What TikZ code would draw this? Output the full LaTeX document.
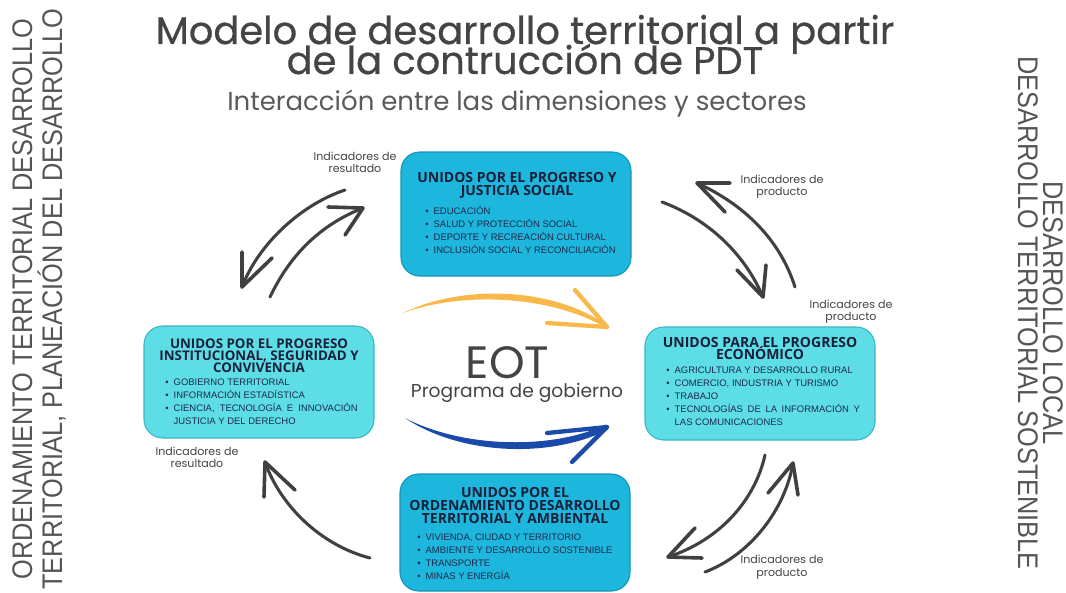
\documentclass[tikz,border=0pt]{standalone}
\usepackage{fontspec}
\setmainfont{Liberation Sans}
\newfontfamily\titlefont{Poppins}
\newfontfamily\titlebold{Poppins}[FakeBold=0.6]
\newfontfamily\headfont{Open Sans}
\definecolor{topblue}{HTML}{1DB6DD}
\definecolor{topedge}{HTML}{1494B5}
\definecolor{cyanbox}{HTML}{5DDEE6}
\definecolor{cyanedge}{HTML}{3CB6C2}
\definecolor{navy}{HTML}{1A1F3A}
\definecolor{itemc}{HTML}{1C2A4C}
\definecolor{titlegray}{HTML}{444444}
\definecolor{subgray}{HTML}{5A5A5A}
\definecolor{vgray}{HTML}{555555}
\definecolor{labc}{HTML}{444444}
\definecolor{skc}{HTML}{404040}
\definecolor{orangec}{HTML}{F8B84A}
\definecolor{bluec}{HTML}{1A4AAA}
\newcommand{\bul}[1]{\makebox[6.3pt][l]{•}#1}
\newcommand{\tightlines}{\lineskiplimit=-100pt\relax\lineskip=0pt\relax}
\newcommand{\titlefnt}{\titlebold\fontsize{28.8}{22.5}\selectfont\tightlines}
\newcommand{\eotfnt}{\titlefont\fontsize{14}{14.6}\selectfont\tightlines}
\begin{document}
\begin{tikzpicture}[x=0.75pt,y=-0.75pt,
  box/.style={rounded corners=14pt, minimum width=172.5pt, inner sep=0pt, line width=0.8pt},
  hd/.style={anchor=base, font=\headfont\bfseries\fontsize{10.5}{12}\selectfont, text=navy, inner sep=0pt},
  hdl/.style={hd, font=\headfont\bfseries\fontsize{10}{12}\selectfont},
  it/.style={anchor=base west, font=\fontsize{7.1}{8}\selectfont, text=itemc, inner sep=0pt},
  lab/.style={anchor=base, font=\titlefont\fontsize{8.3}{9}\selectfont, text=labc, inner sep=0pt},
  sk/.style={draw=skc, line width=2.3pt, line cap=round, line join=round},
  skh/.style={draw=skc, line width=2.7pt, line cap=round},
  vt/.style={anchor=base, font=\fontsize{19}{22}\selectfont, text=vgray, inner sep=0pt}]
\useasboundingbox (0,0) rectangle (1066,592);
\clip (0,0) rectangle (1066,592);

% vertical side texts
\node[vt, rotate=90] (vl1) at (32,299) {\scalebox{1}[1.12]{ORDENAMIENTO TERRITORIAL DESARROLLO}};
\node[vt, rotate=90] (vl2) at (62,299) {\scalebox{1}[1.12]{TERRITORIAL, PLANEACIÓN DEL DESARROLLO}};
\node[vt, rotate=-90] (vr1) at (1043,313) {\scalebox{1}[1.12]{DESARROLLO LOCAL}};
\node[vt, rotate=-90] (vr2) at (1018,313) {\scalebox{1}[1.12]{DESARROLLO TERRITORIAL SOSTENIBLE}};

% titles
\node[anchor=base, inner sep=0pt, text=titlegray, align=center, font=\titlefnt] (title) at (525,74)
  {Modelo de desarrollo territorial a partir\\de la contrucción de PDT};
\node[anchor=base, inner sep=0pt, text=subgray, font=\titlefont\fontsize{19.5}{22}\selectfont] (subtitle) at (517,110) {Interacción entre las dimensiones y sectores};

% boxes
\node[box, fill=topblue, draw=topedge, minimum height=93pt] (boxT) at (516,214) {};
\node[box, fill=cyanbox, draw=cyanedge, minimum height=84pt] (boxL) at (259,382) {};
\node[box, fill=cyanbox, draw=cyanedge, minimum height=84.75pt] (boxR) at (760,383.5) {};
\node[box, fill=topblue, draw=topedge, minimum height=87.75pt] (boxB) at (515,532.5) {};

% top box text
\node[hd] (tT1) at (517,182) {UNIDOS POR EL PROGRESO Y};
\node[hd] (tT2) at (517,195) {JUSTICIA SOCIAL};
\node[it] (iT1) at (425,214.5) {\bul{EDUCACIÓN}};
\node[it] (iT2) at (425,227.5) {\bul{SALUD Y PROTECCIÓN SOCIAL}};
\node[it] (iT3) at (425,240.5) {\bul{DEPORTE Y RECREACIÓN CULTURAL}};
\node[it] (iT4) at (425,253.5) {\bul{INCLUSIÓN SOCIAL Y RECONCILIACIÓN}};

% left box text
\node[hdl] (tL1) at (259,348) {UNIDOS POR EL PROGRESO};
\node[hdl] (tL2) at (259,360) {INSTITUCIONAL, SEGURIDAD Y};
\node[hdl] (tL3) at (259,372) {CONVIVENCIA};
\node[it] (iL1) at (165,385.5) {\bul{GOBIERNO TERRITORIAL}};
\node[it] (iL2) at (165,398.5) {\bul{INFORMACIÓN ESTADÍSTICA}};
\node[it] (iL3) at (165,411.5) {\bul{\hbox to 138pt{CIENCIA,\hfil TECNOLOGÍA\hfil E\hfil INNOVACIÓN}}};
\node[it] (iL4) at (173.4,424.5) {JUSTICIA Y DEL DERECHO};

% right box text
\node[hd] (tR1) at (760,347) {UNIDOS PARA EL PROGRESO};
\node[hd] (tR2) at (760,359) {ECONÓMICO};
\node[it] (iR1) at (666,373.5) {\bul{AGRICULTURA Y DESARROLLO RURAL}};
\node[it] (iR2) at (666,386.5) {\bul{COMERCIO, INDUSTRIA Y TURISMO}};
\node[it] (iR3) at (666,399.5) {\bul{TRABAJO}};
\node[it] (iR4) at (666,412.5) {\bul{\hbox to 139pt{TECNOLOGÍAS\hfil DE\hfil LA\hfil INFORMACIÓN\hfil Y}}};
\node[it] (iR5) at (674.4,425.5) {LAS COMUNICACIONES};

% bottom box text
\node[hd] (tB1) at (515,497) {UNIDOS POR EL};
\node[hd] (tB2) at (515,510) {ORDENAMIENTO DESARROLLO};
\node[hd] (tB3) at (515,523) {TERRITORIAL Y AMBIENTAL};
\node[it] (iB1) at (417,540.5) {\bul{VIVIENDA, CIUDAD Y TERRITORIO}};
\node[it] (iB2) at (417,553.5) {\bul{AMBIENTE Y DESARROLLO SOSTENIBLE}};
\node[it] (iB3) at (417,566.5) {\bul{TRANSPORTE}};
\node[it] (iB4) at (417,579.5) {\bul{MINAS Y ENERGÍA}};

% centre
\node[anchor=base, inner sep=0pt, text=titlegray, align=center, font=\eotfnt] (eot) at (517,397.5)
  {{\fontsize{34}{14.6}\selectfont EOT\hspace*{14pt}}\\Programa de gobierno};

% orange and blue arrows (tapered strokes)
\coordinate (os) at (403,313); \coordinate (ot) at (607,327);
\fill[orangec] (os) .. controls (460,285) and (550,286) .. (606,324.5)
  -- (608,329) .. controls (550,294) and (460,292) .. (os) -- cycle;
\draw[draw=orangec, line width=3.2pt, line cap=round] (ot) -- (575,290) (ot) -- (547,323);
\coordinate (bs) at (405,418); \coordinate (bt) at (607,427);
\fill[bluec] (bs) .. controls (460,447) and (550,451) .. (606,424.5)
  -- (608,429.5) .. controls (550,459) and (460,455) .. (bs) -- cycle;
\draw[draw=bluec, line width=3.2pt, line cap=round] (bt) -- (547,433) (bt) -- (572,462);

% labels
\node[lab] (labTL1) at (355,160) {Indicadores de};
\node[lab] (labTL2) at (355,172) {resultado};
\node[lab] (labTR1) at (782,183) {Indicadores de};
\node[lab] (labTR2) at (782,195) {producto};
\node[lab] (labR1) at (851,308) {Indicadores de};
\node[lab] (labR2) at (851,320) {producto};
\node[lab] (labBL1) at (197,455) {Indicadores de};
\node[lab] (labBL2) at (197,467) {resultado};
\node[lab] (labBR1) at (782,563) {Indicadores de};
\node[lab] (labBR2) at (782,576) {producto};

% sketch arrows
\coordinate (As) at (345,190); \coordinate (At) at (242,287);
\draw[sk] (As) .. controls (300,205) and (258,245) .. (At);
\draw[skh] (At) -- (242,252) (At) -- (272,258);
\coordinate (Bs) at (270,297); \coordinate (Bt) at (363,208);
\draw[sk] (Bs) .. controls (290,255) and (320,225) .. (Bt);
\draw[skh] (Bt) -- (328,207) (Bt) -- (345,235);
\coordinate (Cs) at (795,287); \coordinate (Ct) at (697,183);
\draw[sk] (Cs) .. controls (780,240) and (745,205) .. (Ct);
\draw[skh] (Ct) -- (730,183) (Ct) -- (725,212);
\coordinate (Ds) at (662,202); \coordinate (Dt) at (763,297);
\draw[sk] (Ds) .. controls (710,220) and (745,255) .. (Dt);
\draw[skh] (Dt) -- (766,265) (Dt) -- (737,270);
\coordinate (Es) at (370,558); \coordinate (Et) at (265,462);
\draw[sk] (Es) .. controls (320,545) and (280,505) .. (Et);
\draw[skh] (Et) -- (264,497) (Et) -- (295,490);
\coordinate (Fs) at (765,455); \coordinate (Ft) at (668,557);
\draw[sk] (Fs) .. controls (755,500) and (720,540) .. (Ft);
\draw[skh] (Ft) -- (695,528) (Ft) -- (702,558);
\coordinate (Gs) at (705,572); \coordinate (Gt) at (793,463);
\draw[sk] (Gs) .. controls (750,555) and (785,510) .. (Gt);
\draw[skh] (Gt) -- (768,493) (Gt) -- (798,495);
\end{tikzpicture}
\end{document}
